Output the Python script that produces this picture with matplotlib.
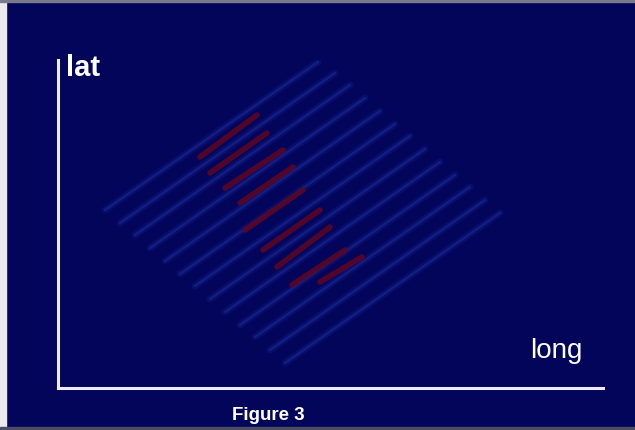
"""
Figure 3 - wave pattern over lat/long
"""

import matplotlib
matplotlib.use("Agg")
import matplotlib.pyplot as plt
from matplotlib.patches import Rectangle

# fundo e cores
FUNDO = "#02055a"
AZUL  = "#1a2896"
VERM  = "#5a0624"
EIXO  = "#ecebf6"

# faixas azuis (long, lat) - início e fim de cada faixa
azul_long0 = [47, 62, 77, 92, 107, 122, 137, 152, 167, 182, 197, 212, 227]
azul_lat0  = [178, 165, 153, 140, 127, 114, 102, 89, 76, 63, 51, 38, 25]
azul_long1 = [260, 277, 292, 307, 322, 337, 352, 367, 382, 397, 412, 427, 442]
azul_lat1  = [326, 315, 303, 290, 277, 264, 252, 239, 226, 213, 201, 188, 175]

# faixas vermelhas (centro do padrão)
verm_long0 = [142, 152, 167, 182, 187, 205, 219, 234, 262]
verm_lat0  = [231, 215, 200, 185, 158, 138, 121, 103, 106]
verm_long1 = [199, 209, 225, 235, 245, 262, 272, 287, 304]
verm_lat1  = [273, 255, 238, 221, 198, 178, 161, 138, 131]

LONG_MAX = 545
LAT_MAX  = 328


def main():
    fig = plt.figure(figsize=(6.35, 4.3), dpi=100, facecolor=FUNDO)

    # moldura da digitalização
    fig.patches.append(Rectangle((0, 0), 0.01, 1, transform=fig.transFigure,
                                 color="#e9e9ee", zorder=0))
    fig.patches.append(Rectangle((0, 0.995), 1, 0.005, transform=fig.transFigure,
                                 color="#7a7a8a", zorder=0))
    fig.patches.append(Rectangle((0, 0), 1, 0.006, transform=fig.transFigure,
                                 color="#4c4c66", zorder=0))

    ax = fig.add_axes([58 / 635, 42 / 430, 545 / 635, 328 / 430])
    ax.set_facecolor(FUNDO)

    # faixas largas e difusas por baixo + faixa fina por cima
    for x0, y0, x1, y1 in zip(azul_long0, azul_lat0, azul_long1, azul_lat1):
        ax.plot([x0, x1], [y0, y1], color=AZUL, linewidth=5, alpha=0.25,
                solid_capstyle="round")
        ax.plot([x0, x1], [y0, y1], color=AZUL, linewidth=1.8, alpha=0.6,
                solid_capstyle="round")

    for x0, y0, x1, y1 in zip(verm_long0, verm_lat0, verm_long1, verm_lat1):
        ax.plot([x0, x1], [y0, y1], color=VERM, linewidth=4,
                alpha=0.9, solid_capstyle="round")

    ax.set_xlim(0, LONG_MAX)
    ax.set_ylim(0, LAT_MAX)
    ax.set_xticks([])
    ax.set_yticks([])
    for lado in ["top", "right"]:
        ax.spines[lado].set_visible(False)
    for lado in ["left", "bottom"]:
        ax.spines[lado].set_color(EIXO)
        ax.spines[lado].set_linewidth(2.2)

    ax.text(8, LAT_MAX + 6, "lat", color="white", fontsize=21,
            fontweight="bold", family="Liberation Sans", ha="left", va="top")
    ax.text(LONG_MAX - 20, 24, "long", color="white", fontsize=20,
            family="Liberation Sans", ha="right", va="bottom")

    fig.text(268.5 / 635, 15 / 430, "Figure 3", color="white", fontsize=13.5,
             fontweight="bold", family="Liberation Sans", ha="center", va="center")

    plt.savefig("out.png", dpi=100, facecolor=FUNDO)
    plt.close()


if __name__ == "__main__":
    main()
